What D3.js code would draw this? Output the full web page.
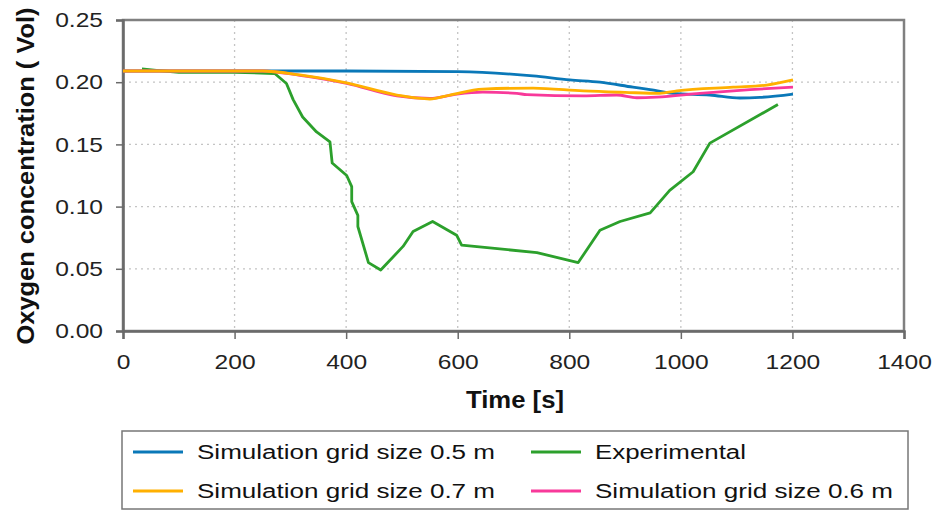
<!DOCTYPE html>
<html><head><meta charset="utf-8">
<script src="https://cdn.jsdelivr.net/npm/d3@7"></script>
<style>body{margin:0;background:#fff}svg{display:block}text{font-family:"Liberation Sans",Arial,sans-serif}</style>
</head><body>
<svg id="c" width="940" height="512"></svg>
<script>
const xTicks = [0,200,400,600,800,1000,1200,1400];
const yTicks = [0,0.05,0.10,0.15,0.20,0.25];

const blue05 = [[0,0.209],[200,0.209],[400,0.209],[600,0.2085],[735,0.205],[801,0.2018],[855,0.200],[914,0.196],[945,0.194],[986,0.191],[1052,0.1897],[1106,0.1873],[1142,0.1878],[1201,0.1905]];
const orange07 = [[0,0.209],[250,0.209],[317,0.2058],[401,0.1994],[491,0.1897],[550,0.1865],[586,0.1897],[645,0.1945],[735,0.1953],[825,0.193],[900,0.1918],[962,0.191],[993,0.193],[1094,0.196],[1154,0.1977],[1201,0.2018]];
const pink06 = [[0,0.209],[250,0.209],[317,0.2055],[401,0.199],[491,0.189],[550,0.187],[599,0.1905],[645,0.192],[706,0.191],[724,0.190],[825,0.189],[885,0.1897],[921,0.1875],[957,0.188],[1034,0.191],[1124,0.194],[1201,0.196]];
const experimental = [[34,0.2106],[60,0.2095],[100,0.208],[200,0.208],[272,0.207],[293,0.199],[305,0.186],[322,0.172],[347,0.160],[371,0.152],[375,0.135],[401,0.125],[410,0.116],[410,0.104],[421,0.093],[421,0.084],[440,0.055],[462,0.049],[502,0.068],[520,0.080],[555,0.088],[598,0.077],[607,0.069],[742,0.063],[816,0.055],[855,0.081],[891,0.088],[945,0.095],[980,0.113],[1022,0.128],[1052,0.151],[1174,0.182]];

const seriesNames = ["Simulation grid size 0.5 m","Experimental","Simulation grid size 0.7 m","Simulation grid size 0.6 m"];
const seriesColors = ["#0a78b8","#2ca02c","#ffb000","#f8399a"];
const seriesData = [blue05, experimental, orange07, pink06];
const drawOrder = [1,0,3,2];

const svg = d3.select("#c");
const L=123,R=904,T=20,B=331;
const x = d3.scaleLinear().domain([0,1400]).range([L,R]);
const y = d3.scaleLinear().domain([0,0.25]).range([B,T]);

function stretch(sel,f){ sel.each(function(){ const w=this.getComputedTextLength(); d3.select(this).attr("textLength",w*f).attr("lengthAdjust","spacingAndGlyphs"); }); }

// grid
const g = svg.append("g");
g.selectAll(".vg").data(xTicks.slice(1,-1)).enter().append("line")
 .attr("x1",d=>x(d)).attr("x2",d=>x(d)).attr("y1",T).attr("y2",B)
 .attr("stroke","#c4c4c4").attr("stroke-width",1.3).attr("stroke-dasharray","2,4");
g.selectAll(".hg").data(yTicks.slice(1,-1)).enter().append("line")
 .attr("y1",d=>y(d)).attr("y2",d=>y(d)).attr("x1",L).attr("x2",R)
 .attr("stroke","#c4c4c4").attr("stroke-width",1.3).attr("stroke-dasharray","2,4");

// frame
svg.append("rect").attr("x",L).attr("y",T).attr("width",R-L).attr("height",B-T)
 .attr("fill","none").attr("stroke","#808080").attr("stroke-width",2.5);

// axes
const xa = svg.append("g").attr("transform",`translate(0,${B})`)
 .call(d3.axisBottom(x).tickValues(xTicks).tickFormat(d3.format("d")).tickSize(8).tickPadding(15));
const ya = svg.append("g").attr("transform",`translate(${L},0)`)
 .call(d3.axisLeft(y).tickValues(yTicks).tickFormat(d3.format(".2f")).tickSize(7).tickPadding(13));
[xa,ya].forEach(a=>{
  a.select(".domain").attr("stroke","#6a6a6a").attr("stroke-width",2.5);
  a.selectAll(".tick line").attr("stroke","#6a6a6a").attr("stroke-width",1.5);
  a.selectAll(".tick text").attr("font-size",21).attr("fill","#222").attr("font-family","Liberation Sans, Arial, sans-serif");
  stretch(a.selectAll(".tick text"),1.17);
});

// lines
const lineSim = d3.line().x(d=>x(d[0])).y(d=>y(d[1])).curve(d3.curveMonotoneX);
const lineExp = d3.line().x(d=>x(d[0])).y(d=>y(d[1]));
drawOrder.forEach(i=>{
  svg.append("path").datum(seriesData[i]).attr("d",i===1?lineExp:lineSim).attr("fill","none")
   .attr("stroke",seriesColors[i]).attr("stroke-width",2.8).attr("stroke-linejoin","round");
});

// axis titles
svg.append("text").attr("x",515).attr("y",408).attr("text-anchor","middle")
 .attr("font-size",23).attr("font-weight","bold").attr("fill","#111").text("Time [s]")
 .attr("textLength",98).attr("lengthAdjust","spacingAndGlyphs");
svg.append("text").attr("transform","translate(34,176) rotate(-90)").attr("text-anchor","middle")
 .attr("font-size",23).attr("font-weight","bold").attr("fill","#111").text("Oxygen concentration ( Vol)")
 .attr("textLength",337).attr("lengthAdjust","spacingAndGlyphs");

// legend
svg.append("rect").attr("x",122).attr("y",431).attr("width",786).attr("height",78)
 .attr("fill","#fff").attr("stroke","#777").attr("stroke-width",1.5);
const legPos = [[133,452],[531,452],[133,491],[531,491]];
const legLen = [298,151,298,298];
seriesNames.forEach((n,i)=>{
  const [lx,ly]=legPos[i];
  svg.append("line").attr("x1",lx).attr("x2",lx+50).attr("y1",ly).attr("y2",ly)
   .attr("stroke",seriesColors[i]).attr("stroke-width",3);
  svg.append("text").attr("x",lx+64).attr("y",ly+7).attr("font-size",20).attr("fill","#111").text(n)
   .attr("textLength",legLen[i]).attr("lengthAdjust","spacingAndGlyphs");
});
</script>
</body></html>
